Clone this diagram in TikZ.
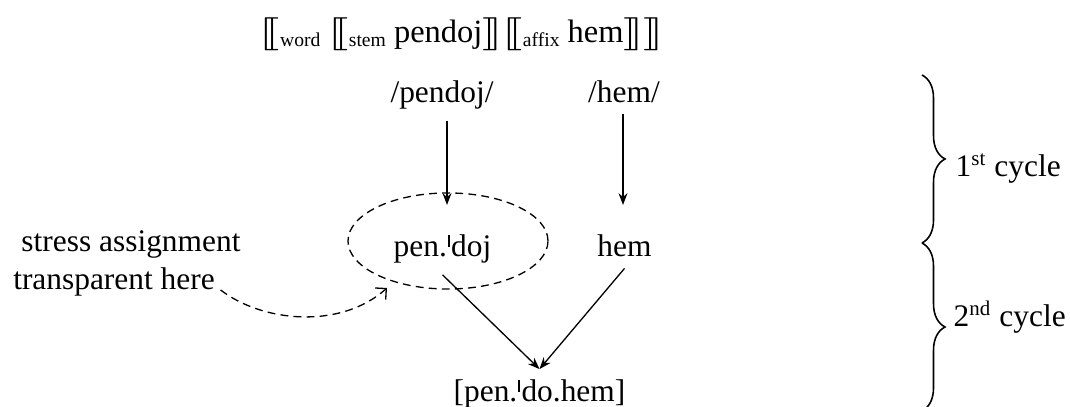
\documentclass[tikz,border=0pt,12pt]{standalone}
\usepackage{fontspec}
\setmainfont{Liberation Serif}
\usepackage{stmaryrd}
\usepackage{graphicx}
\usetikzlibrary{arrows.meta}
\usetikzlibrary{shapes.geometric}
\usetikzlibrary{decorations.pathreplacing}
\newcommand{\prim}{\kern0.4pt\rule[0.32em]{0.05em}{0.37em}\kern0.6pt}
\newcommand{\dlb}{\scalebox{1.6}[1.05]{$\llbracket$}}
\newcommand{\drb}{\scalebox{1.6}[1.05]{$\rrbracket$}}
\newcommand{\lab}[1]{\raisebox{-1.5pt}{\fontsize{7.5}{8}\selectfont #1}}

\begin{document}
\begin{tikzpicture}[x=0.382pt, y=-0.382pt, line width=0.5pt,
    >={Stealth[length=4.5pt,width=3.4pt]},
    form/.style={anchor=base},
    ring/.style={draw, dash pattern=on 3pt off 2pt, ellipse, minimum width=76.4pt, minimum height=36.7pt},
    hint/.style={dash pattern=on 3pt off 2pt, -{Straight Barb[length=3pt,width=6pt]}},
    cyc/.style={decorate, decoration={brace, amplitude=8.8pt}, line width=0.6pt}]
  \useasboundingbox (0,0) rectangle (1070,407);
  \node[form] (struct) at (462,43) {\fontsize{12.4}{14}\selectfont\dlb\lab{word} \dlb\lab{stem} pendoj\drb\dlb\lab{affix} hem\drb\drb};
  \node[form] (upen) at (442,103) {/pendoj/};
  \node[form] (uhem) at (624,103) {/hem/};
  \node[form] (pdj) at (442.5,257) {pen.\prim doj};
  \node[form] (hem) at (624.5,257) {hem};
  \node[ring] (ring) at (448,241) {};
  \node[form] (res) at (539.5,402) {[pen.\prim do.hem]};
  \node[form, inner sep=2pt] (stress) at (131,252) {stress assignment};
  \node[form, inner sep=2pt] (transp) at (114,290) {transparent here};
  \coordinate (pin) at (447,205);
  \coordinate (hin) at (623,205);
  \coordinate (tip) at (387,288);
  \draw[->] (pin |- upen.south) -- (pin);
  \draw[->] (hin |- uhem.south) -- (hin);
  \draw[->] (pdj.south) -- (res.north);
  \draw[->] (hem.south) -- (res.north);
  \draw[hint] (transp.base east) .. controls (262,322) and (340,330) .. (tip);
  \coordinate (c0) at (922,75);
  \coordinate (c1) at (922,243);
  \coordinate (c2) at (922,411);
  \draw[cyc] (c0) -- (c1);
  \draw[cyc] (c1) -- (c2);
  \node[anchor=base west, inner sep=0pt] (first) at (955,177) {1\textsuperscript{st} cycle};
  \node[anchor=base west, inner sep=0pt] (second) at (953,327) {2\textsuperscript{nd} cycle};
\end{tikzpicture}
\end{document}
